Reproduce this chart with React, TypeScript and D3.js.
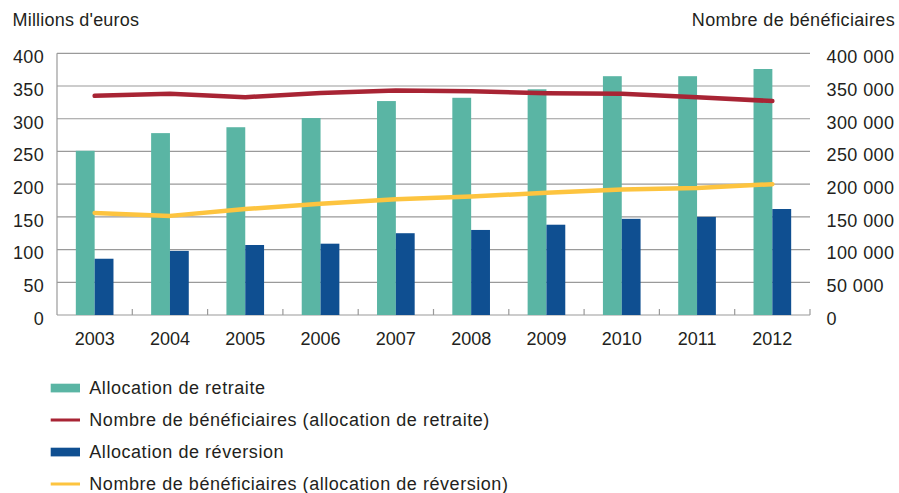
import React from "react";
import * as d3 from "d3";

const years = ["2003", "2004", "2005", "2006", "2007", "2008", "2009", "2010", "2011", "2012"];
const allocRetraite = [251, 278, 287, 301, 327, 332, 345, 365, 365, 376];
const allocReversion = [86, 98, 107, 109, 125, 130, 138, 147, 150, 162];
const benefRetraite = [335000, 338000, 333000, 339500, 343000, 342000, 339000, 338000, 333000, 327000];
const benefReversion = [156000, 151500, 162000, 170000, 177000, 181000, 187000, 192000, 194000, 200000];
const leftTicks = [0, 50, 100, 150, 200, 250, 300, 350, 400];
const rightTicks = [0, 50000, 100000, 150000, 200000, 250000, 300000, 350000, 400000];

const W = 899;
const H = 493;
const M = { left: 57, right: 810, top: 53.3, bottom: 315 };
const FONT = "'Liberation Sans', Arial, Helvetica, sans-serif";
const TEXT = "#231f20";
const C_GREEN = "#5ab5a4";
const C_BLUE = "#0f4f91";
const C_RED = "#a82434";
const C_YELLOW = "#fdc43f";
const GRID = "#9a9a9a";

export default function App() {
  const x = d3.scaleBand<string>().domain(years).range([M.left, M.right]).paddingInner(0).paddingOuter(0);
  const yL = d3.scaleLinear().domain([0, 400]).range([M.bottom, M.top]);
  const yR = d3.scaleLinear().domain([0, 400000]).range([M.bottom, M.top]);
  const bw = x.bandwidth();
  const barW = bw * 0.25;
  const cx = (d: string) => (x(d) as number) + bw / 2;

  const lineR = d3.line<number>().x((_, i) => cx(years[i])).y((v) => yR(v));
  const fmt = (v: number) => (v === 0 ? "0" : d3.format(",")(v).replace(/,/g, " "));

  const legend = [
    { type: "bar", color: C_GREEN, label: "Allocation de retraite" },
    { type: "line", color: C_RED, label: "Nombre de bénéficiaires (allocation de retraite)" },
    { type: "bar", color: C_BLUE, label: "Allocation de réversion" },
    { type: "line", color: C_YELLOW, label: "Nombre de bénéficiaires (allocation de réversion)" },
  ];

  return (
    <svg width={W} height={H} style={{ position: "absolute", left: 0, top: 0, background: "#fff" }} fontFamily={FONT}>
      <text x={12.5} y={25.5} fontSize={18} letterSpacing={0.2} fill={TEXT}>Millions d'euros</text>
      <text x={895} y={25.5} fontSize={18} letterSpacing={0.35} fill={TEXT} textAnchor="end">Nombre de bénéficiaires</text>

      {leftTicks.map((t) => (
        <g key={"g" + t}>
          <line x1={M.left} x2={M.right} y1={yL(t)} y2={yL(t)} stroke={GRID} strokeWidth={1.2} />
          <text x={44} y={yL(t) + 9.8} fontSize={18} letterSpacing={0.3} fill={TEXT} textAnchor="end">{t}</text>
        </g>
      ))}
      {rightTicks.map((t) => (
        <text key={"r" + t} x={826.5} y={yR(t) + 9.8} fontSize={18} letterSpacing={0.4} fill={TEXT}>{fmt(t)}</text>
      ))}
      <line x1={M.left} x2={M.left} y1={M.top} y2={M.bottom} stroke={GRID} strokeWidth={1.2} />
      {years.map((d) => (
        <line key={"tk" + d} x1={(x(d) as number) + bw} x2={(x(d) as number) + bw} y1={M.bottom} y2={M.bottom - 6} stroke={GRID} strokeWidth={1.2} />
      ))}
      {years.map((d) => (
        <text key={"xl" + d} x={cx(d)} y={345} fontSize={18} fill={TEXT} textAnchor="middle">{d}</text>
      ))}

      {years.map((d, i) => (
        <g key={"b" + d}>
          <rect x={cx(d) - barW} y={yL(allocRetraite[i])} width={barW} height={M.bottom - yL(allocRetraite[i])} fill={C_GREEN} />
          <rect x={cx(d)} y={yL(allocReversion[i])} width={barW} height={M.bottom - yL(allocReversion[i])} fill={C_BLUE} />
        </g>
      ))}

      <path d={lineR(benefRetraite) || ""} fill="none" stroke={C_RED} strokeWidth={4.5} strokeLinejoin="round" strokeLinecap="round" />
      <path d={lineR(benefReversion) || ""} fill="none" stroke={C_YELLOW} strokeWidth={4.5} strokeLinejoin="round" strokeLinecap="round" />

      {legend.map((l, i) => {
        const yc = 388 + i * 32;
        return (
          <g key={"lg" + i}>
            {l.type === "bar" ? (
              <rect x={50.7} y={yc - 4.3} width={29.3} height={8.7} fill={l.color} />
            ) : (
              <rect x={50.7} y={yc - 1.5} width={29.3} height={3} fill={l.color} />
            )}
            <text x={89.3} y={yc + 6.3} fontSize={18} letterSpacing={0.55} fill={TEXT}>{l.label}</text>
          </g>
        );
      })}
    </svg>
  );
}
